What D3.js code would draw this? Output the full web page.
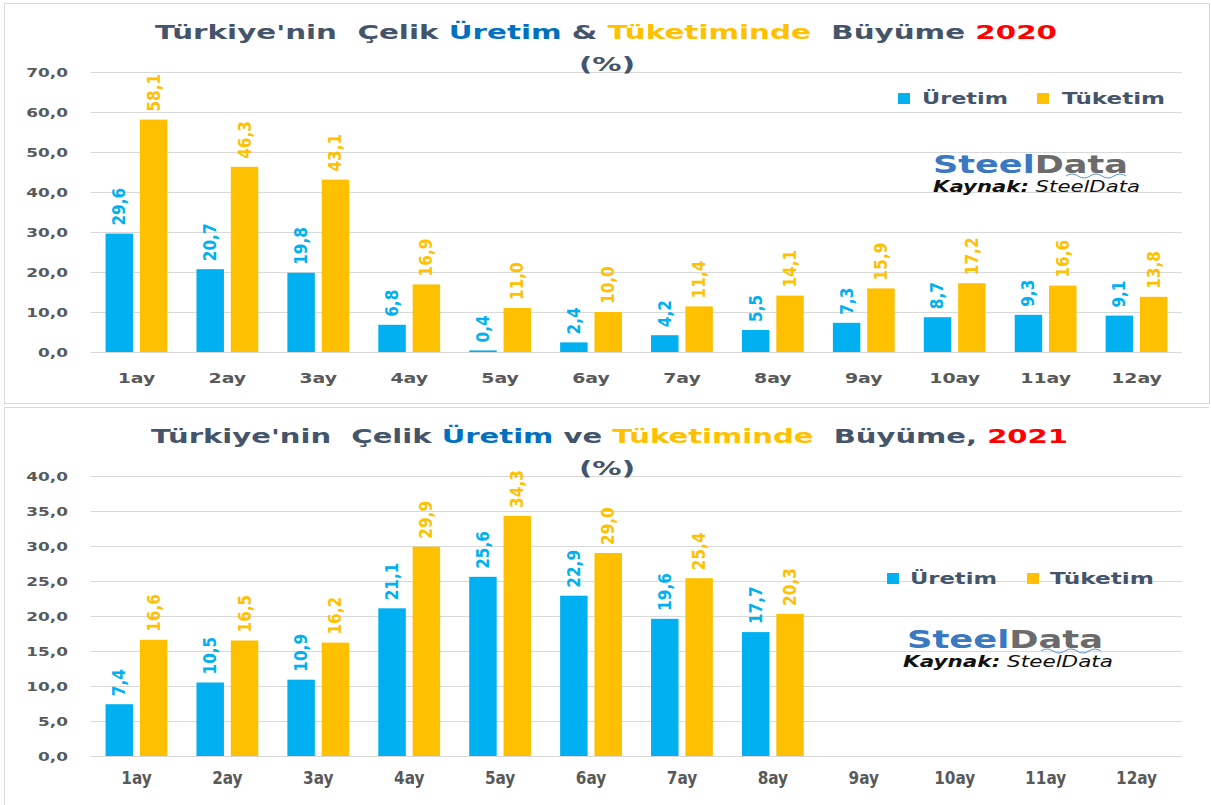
<!DOCTYPE html>
<html>
<head>
<meta charset="utf-8">
<script src="https://cdn.jsdelivr.net/npm/d3@7"></script>
<style>
body { margin: 0; background: #fff; }
svg text { white-space: pre; }
</style>
</head>
<body>
<div id="chart"></div>
<script>
// months
var months = ["1ay","2ay","3ay","4ay","5ay","6ay","7ay","8ay","9ay","10ay","11ay","12ay"];
var seriesNames = ["Üretim", "Tüketim"];
var seriesColors = ["#00B0F0", "#FFC000"];

// 2020 growth (%)
var uretim2020 = [29.6, 20.7, 19.8, 6.8, 0.4, 2.4, 4.2, 5.5, 7.3, 8.7, 9.3, 9.1];
var tuketim2020 = [58.1, 46.3, 43.1, 16.9, 11.0, 10.0, 11.4, 14.1, 15.9, 17.2, 16.6, 13.8];
// 2021 growth (%), only 8 months
var uretim2021 = [7.4, 10.5, 10.9, 21.1, 25.6, 22.9, 19.6, 17.7];
var tuketim2021 = [16.6, 16.5, 16.2, 29.9, 34.3, 29.0, 25.4, 20.3];

var ticks2020 = [0, 10, 20, 30, 40, 50, 60, 70];
var ticks2021 = [0, 5, 10, 15, 20, 25, 30, 35, 40];

var width = 1211, height = 805;
var boldFont = "DejaVu Sans, sans-serif";
var narrowFont = "'Liberation Sans Narrow', 'DejaVu Sans Condensed', sans-serif";
var textGrey = "#595959";
var titleGrey = "#44546A";

var svg = d3.select("#chart").append("svg")
    .attr("width", width)
    .attr("height", height);

// panel frames
svg.append("rect")
    .attr("x", 4.5).attr("y", 3.5)
    .attr("width", 1205).attr("height", 400)
    .attr("fill", "none")
    .attr("stroke", "#D9D9D9");
svg.append("path")
    .attr("d", "M4.5,805 L4.5,407.5 L1209,407.5")
    .attr("fill", "none")
    .attr("stroke", "#D9D9D9");

function fmt(v) { return v.toFixed(1).replace(".", ","); }

function drawChart(cfg) {
    var g = svg.append("g");

    var x0 = d3.scaleBand().domain(months).range([91, 1182]).paddingInner(0.32).paddingOuter(0.16);
    var x1 = d3.scaleBand().domain(seriesNames).range([0, x0.bandwidth()]).paddingInner(0.2);
    var y = d3.scaleLinear().domain([0, cfg.yMax]).range([cfg.y0, cfg.yTop]);

    // gridlines + tick labels
    var yAxis = d3.axisLeft(y).tickValues(cfg.ticks).tickSize(-(1182 - 91)).tickFormat(fmt);
    var ay = g.append("g").attr("transform", "translate(91,0)").call(yAxis);
    ay.select(".domain").remove();
    ay.selectAll(".tick line").attr("stroke", "#D9D9D9");
    ay.selectAll(".tick text")
        .attr("x", 0).attr("dy", "0.35em")
        .attr("text-anchor", "end")
        .attr("transform", "translate(-23,0) scale(1.3,1)")
        .attr("fill", textGrey)
        .style("font-family", boldFont)
        .style("font-weight", "bold")
        .style("font-size", "13px");

    // category labels
    var ax = g.append("g").attr("transform", "translate(0," + cfg.y0 + ")")
        .call(d3.axisBottom(x0).tickSize(0).tickPadding(0));
    ax.select(".domain").remove();
    ax.selectAll(".tick text").attr("y", null).attr("dy", null)
        .attr("fill", textGrey);
    if (cfg.narrowCats) {
        ax.selectAll(".tick text")
            .attr("transform", "translate(0,28)")
            .style("font-family", narrowFont)
            .style("font-weight", "bold")
            .style("font-size", "17px");
    } else {
        ax.selectAll(".tick text")
            .attr("transform", "translate(0,31) scale(1.35,1)")
            .style("font-family", boldFont)
            .style("font-weight", "bold")
            .style("font-size", "14px");
    }

    // bars
    var rows = [];
    cfg.series.forEach(function(vals, si) {
        vals.forEach(function(v, i) {
            rows.push({month: months[i], s: si, v: v});
        });
    });

    g.append("g").selectAll("rect")
        .data(rows)
        .enter()
        .append("rect")
        .attr("x", function(d) { return x0(d.month) + x1(seriesNames[d.s]); })
        .attr("y", function(d) { return y(d.v); })
        .attr("width", x1.bandwidth())
        .attr("height", function(d) { return y(0) - y(d.v); })
        .attr("fill", function(d) { return seriesColors[d.s]; });

    // value labels, rotated
    g.append("g").selectAll("text")
        .data(rows)
        .enter()
        .append("text")
        .attr("transform", function(d) {
            var cx = x0(d.month) + x1(seriesNames[d.s]) + x1.bandwidth() / 2;
            return "translate(" + cx + "," + (y(d.v) - 8) + ") rotate(-90)";
        })
        .attr("dy", "0.35em")
        .attr("fill", function(d) { return seriesColors[d.s]; })
        .style("font-family", narrowFont)
        .style("font-weight", "bold")
        .style("font-size", "17px")
        .text(function(d) { return fmt(d.v); });

    // title
    var t = g.append("text")
        .attr("x", cfg.titleX)
        .attr("y", cfg.titleY)
        .attr("textLength", cfg.titleLen)
        .attr("lengthAdjust", "spacingAndGlyphs")
        .style("font-family", boldFont)
        .style("font-weight", "bold")
        .style("font-size", "20px");
    cfg.titleParts.forEach(function(p) {
        t.append("tspan").attr("fill", p[1]).text(p[0]);
    });
    g.append("text")
        .attr("x", 579)
        .attr("y", cfg.titleY + 32)
        .attr("textLength", 56)
        .attr("lengthAdjust", "spacingAndGlyphs")
        .attr("fill", titleGrey)
        .style("font-family", boldFont)
        .style("font-weight", "bold")
        .style("font-size", "20px")
        .text("(%)");

    // legend
    var lg = g.append("g");
    seriesNames.forEach(function(name, i) {
        var L = cfg.legend[i];
        lg.append("rect")
            .attr("x", L.sx).attr("y", cfg.legendY - 11)
            .attr("width", 12).attr("height", 11)
            .attr("fill", seriesColors[i]);
        lg.append("text")
            .attr("x", L.tx).attr("y", cfg.legendY)
            .attr("textLength", L.tl)
            .attr("lengthAdjust", "spacingAndGlyphs")
            .attr("fill", titleGrey)
            .style("font-family", boldFont)
            .style("font-weight", "bold")
            .style("font-size", "15px")
            .text(name);
    });

    // logo + source
    var logo = g.append("text")
        .attr("x", cfg.logoX).attr("y", cfg.logoY)
        .attr("textLength", cfg.logoLen)
        .attr("lengthAdjust", "spacingAndGlyphs")
        .style("font-family", boldFont)
        .style("font-weight", "bold")
        .style("font-size", "25px");
    logo.append("tspan").attr("fill", "#3A78C2").text("Steel");
    logo.append("tspan").attr("fill", "#6B6B6B").text("Data");
    // little scribble under the logo
    var sx = cfg.logoX + cfg.logoLen - 62, sy = cfg.logoY + 3;
    g.append("path")
        .attr("d", "M" + sx + "," + sy + " q6,-4 12,0 t12,0 t12,0 t12,0 t12,0")
        .attr("fill", "none")
        .attr("stroke", "#3A78C2")
        .attr("stroke-width", 0.8);
    var src = g.append("text")
        .attr("x", cfg.srcX).attr("y", cfg.srcY)
        .attr("textLength", cfg.srcLen)
        .attr("lengthAdjust", "spacingAndGlyphs")
        .attr("fill", "#111")
        .style("font-family", boldFont)
        .style("font-style", "italic")
        .style("font-size", "15px");
    src.append("tspan").style("font-weight", "bold").text("Kaynak:");
    src.append("tspan").text(" SteelData");
}

drawChart({
    series: [uretim2020, tuketim2020],
    yMax: 70, ticks: ticks2020, y0: 352, yTop: 72,
    narrowCats: false,
    titleX: 155, titleY: 39, titleLen: 902,
    titleParts: [["Türkiye'nin  Çelik ", titleGrey], ["Üretim", "#0070C0"], [" & ", titleGrey],
                 ["Tüketiminde", "#FFC000"], ["  Büyüme ", titleGrey], ["2020", "#FF0000"]],
    legendY: 104,
    legend: [{sx: 898, tx: 922, tl: 86}, {sx: 1037, tx: 1062, tl: 103}],
    logoX: 933, logoY: 173, logoLen: 195,
    srcX: 933, srcY: 192, srcLen: 207
});

drawChart({
    series: [uretim2021, tuketim2021],
    yMax: 40, ticks: ticks2021, y0: 756, yTop: 476,
    narrowCats: true,
    titleX: 151, titleY: 443, titleLen: 917,
    titleParts: [["Türkiye'nin  Çelik ", titleGrey], ["Üretim", "#0070C0"], [" ve ", titleGrey],
                 ["Tüketiminde", "#FFC000"], ["  Büyüme, ", titleGrey], ["2021", "#FF0000"]],
    legendY: 584,
    legend: [{sx: 887, tx: 910, tl: 87}, {sx: 1027, tx: 1050, tl: 104}],
    logoX: 907, logoY: 648, logoLen: 196,
    srcX: 903, srcY: 667, srcLen: 210
});
</script>
</body>
</html>
